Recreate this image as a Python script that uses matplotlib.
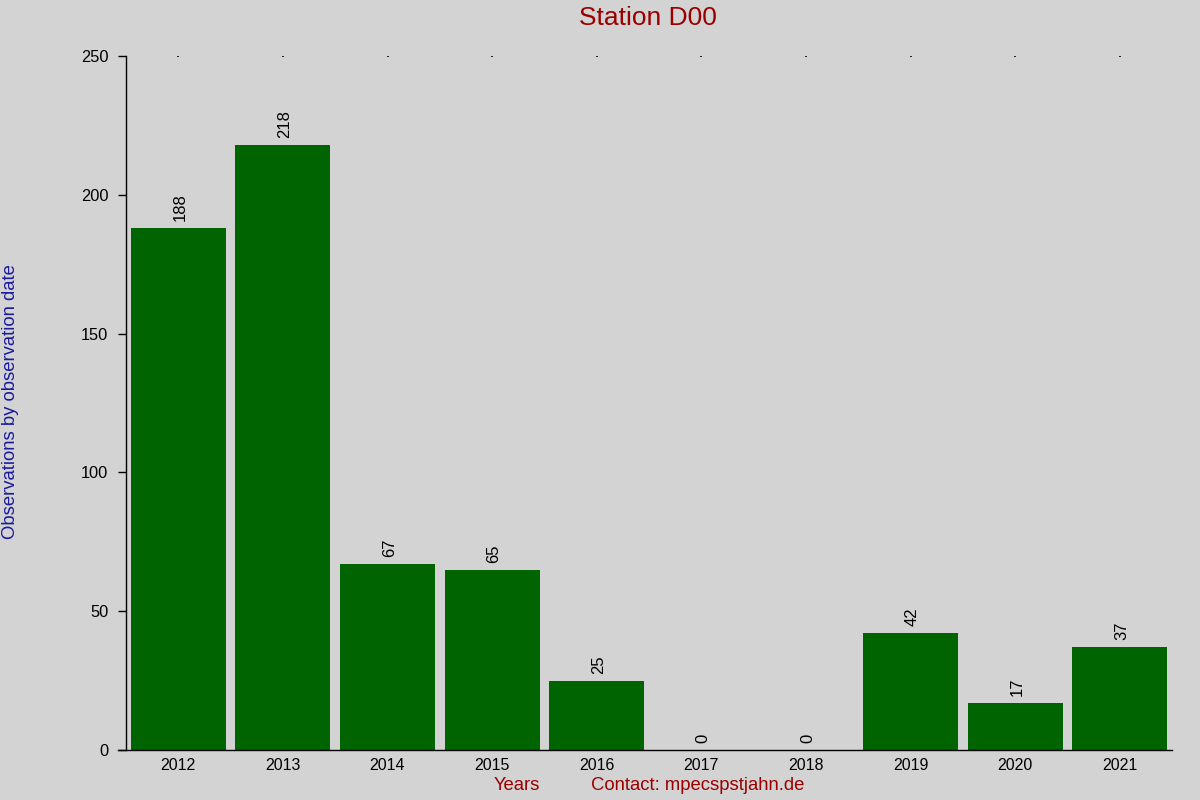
import matplotlib
matplotlib.use("Agg")
import matplotlib.pyplot as plt

years = ["2012", "2013", "2014", "2015", "2016", "2017", "2018", "2019", "2020", "2021"]
counts = [188, 218, 67, 65, 25, 0, 0, 42, 17, 37]

plt.rcParams['font.family'] = ['Liberation Sans', 'DejaVu Sans']

bg = "#d3d3d3"
fig = plt.figure(figsize=(12, 8), dpi=100, facecolor=bg)
ax = fig.add_axes([126/1200, 1-750/800, (1172-126)/1200, (750-56)/800])
ax.set_facecolor(bg)

x = list(range(len(years)))
ax.bar(x, counts, width=0.91, color="#006400")
for xi, v in zip(x, counts):
    ax.annotate(str(v), (xi, v), xytext=(1.3, 5), textcoords="offset points",
                rotation=90, ha="center", va="bottom", fontsize=12, color="black")

ax.set_xlim(-0.5, len(years) - 0.5)
ax.set_ylim(0, 250)
ax.set_yticks([0, 50, 100, 150, 200, 250])
ax.set_xticks(x)
ax.set_xticklabels(years)
ax.tick_params(axis="y", direction="out", length=5.8, width=1, labelsize=11.8, pad=7)
ax.tick_params(axis="x", bottom=False, top=True, direction="in", length=1, width=1.2,
               labelsize=11.5, pad=6)
for s in ["top", "right"]:
    ax.spines[s].set_visible(False)
ax.spines["left"].set_linewidth(1)
ax.spines["bottom"].set_linewidth(1)
ax.spines["bottom"].set_bounds(-0.5 - 8/104.6, len(years) - 0.5)

fig.text(648/1200, 1-18/800, "Station D00", ha="center", va="center",
         fontsize=19, color="#990000")
fig.text(11/1200, 1-402/800, "Observations by observation date", rotation=90,
         ha="center", va="center", fontsize=13.3, color="#1a1a9c")
fig.text(517/1200, 1-786/800, "Years", ha="center", va="center",
         fontsize=13.3, color="#990000")
fig.text(698/1200, 1-786/800, "Contact: mpecspstjahn.de", ha="center", va="center",
         fontsize=13.3, color="#990000")

fig.savefig("out.png", dpi=100, facecolor=bg)
